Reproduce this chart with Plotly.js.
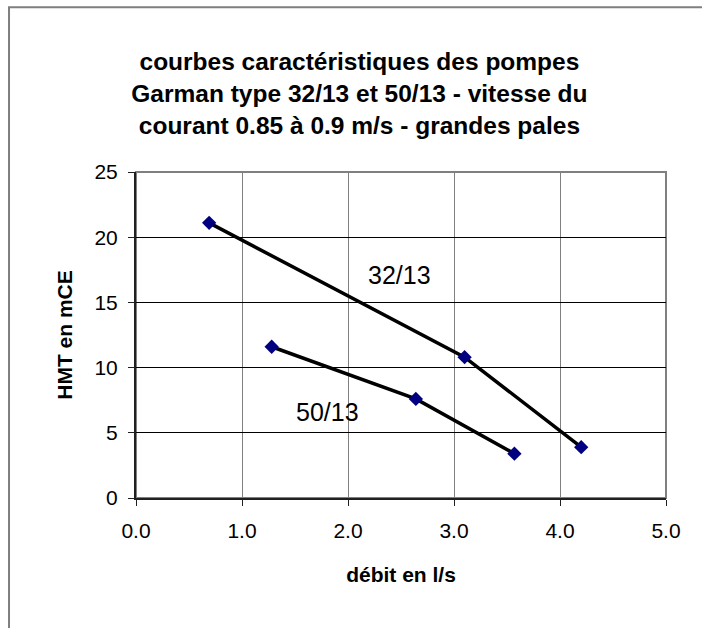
<!DOCTYPE html>
<html>
<head>
<meta charset="utf-8">
<script src="https://cdn.plot.ly/plotly-3.0.1.min.js"></script>
<style>
  html, body { margin: 0; padding: 0; background: #fff; }
  #chart { width: 702px; height: 628px; }
</style>
</head>
<body>
<div id="chart"></div>
<script>
// pompe 32/13
var debit3213 = [0.69, 3.10, 4.20];
var hmt3213 = [21.1, 10.8, 3.9];
// pompe 50/13
var debit5013 = [1.28, 2.64, 3.57];
var hmt5013 = [11.6, 7.6, 3.4];

var labels = ['32/13', '50/13'];
var labelX = [2.49, 1.81];
var labelY = [17.1, 6.6];

var font = 'Liberation Sans, Arial, sans-serif';

function serie(x, y, name) {
    return {
        x: x,
        y: y,
        name: name,
        type: 'scatter',
        mode: 'lines+markers',
        line: {color: '#000000', width: 3.5},
        marker: {symbol: 'diamond', size: 11, color: '#000080'},
        cliponaxis: false
    };
}

var data = [
    serie(debit3213, hmt3213, labels[0]),
    serie(debit5013, hmt5013, labels[1])
];

var layout = {
    width: 702,
    height: 628,
    showlegend: false,
    paper_bgcolor: '#ffffff',
    plot_bgcolor: '#ffffff',
    margin: {l: 136, r: 36, t: 172, b: 130, pad: 0},
    font: {family: font, size: 21, color: '#000000'},
    title: {
        text: 'courbes caractéristiques des pompes<br>Garman type 32/13 et 50/13 - vitesse du<br>courant 0.85 à 0.9 m/s - grandes pales',
        font: {family: font, size: 24.5, color: '#000000', weight: 'bold'},
        x: 0.512,
        xref: 'container',
        xanchor: 'center',
        y: 0.888,
        yref: 'container',
        yanchor: 'middle'
    },
    xaxis: {
        range: [0, 5],
        dtick: 1,
        tick0: 0,
        tickformat: '.1f',
        showgrid: true,
        gridcolor: '#808080',
        gridwidth: 1,
        zeroline: false,
        showline: true,
        linecolor: '#202020',
        linewidth: 2,
        ticks: 'outside',
        ticklen: 6,
        tickcolor: '#202020',
        tickwidth: 1,
        ticklabelstandoff: 7,
        tickfont: {family: font, size: 21},
        fixedrange: true,
        title: {
            text: 'débit en l/s',
            font: {family: font, size: 21, weight: 'bold'},
            standoff: 26
        }
    },
    yaxis: {
        range: [0, 25],
        dtick: 5,
        tick0: 0,
        showgrid: true,
        gridcolor: '#000000',
        gridwidth: 1,
        zeroline: false,
        showline: true,
        linecolor: '#202020',
        linewidth: 2,
        ticks: 'outside',
        ticklen: 6,
        tickcolor: '#202020',
        tickwidth: 1,
        ticklabelstandoff: 6,
        tickfont: {family: font, size: 21},
        fixedrange: true,
        title: {
            text: 'HMT en mCE',
            font: {family: font, size: 21, weight: 'bold'},
            standoff: 16
        }
    },
    annotations: labels.map(function (txt, i) {
        return {
            x: labelX[i],
            y: labelY[i],
            xref: 'x',
            yref: 'y',
            text: txt,
            showarrow: false,
            font: {family: font, size: 25, color: '#000000'}
        };
    }),
    shapes: [
        // cadre du graphique
        {
            type: 'rect', xref: 'paper', yref: 'paper',
            x0: -0.2396, x1: 1.2, y0: -0.6, y1: 1.505,
            line: {color: '#7f7f7f', width: 2}, layer: 'below'
        },
        // bordure de la zone de tracé
        {
            type: 'rect', xref: 'paper', yref: 'paper',
            x0: 0, x1: 1, y0: 0, y1: 1,
            line: {color: '#808080', width: 2}, layer: 'below'
        }
    ]
};

Plotly.newPlot('chart', data, layout, {displayModeBar: false, staticPlot: true});
</script>
</body>
</html>
